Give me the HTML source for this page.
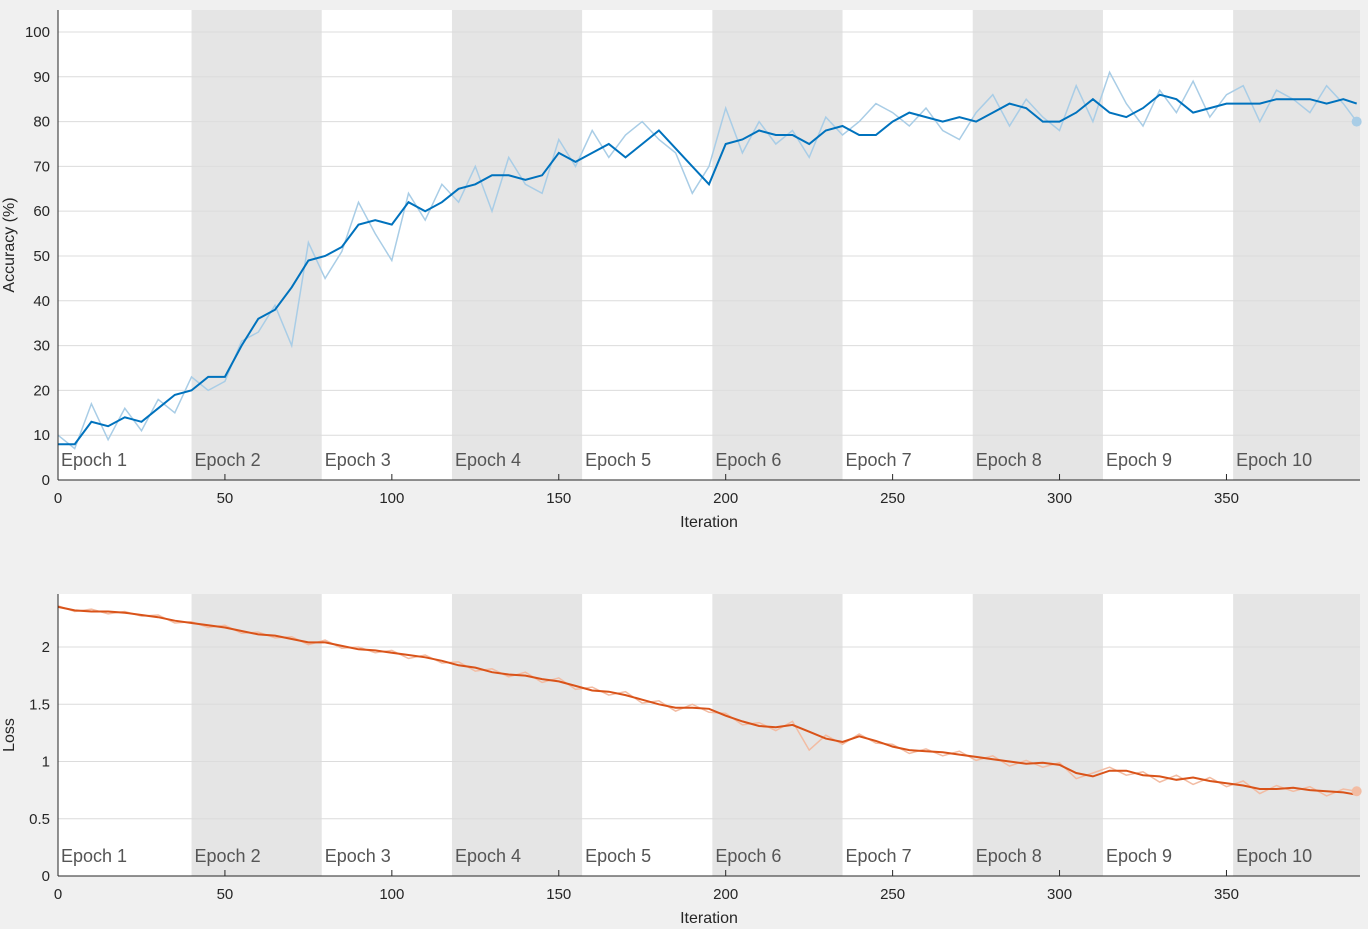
<!DOCTYPE html>
<html><head><meta charset="utf-8">
<style>
html,body{margin:0;padding:0;background:#f0f0f0;}
svg{display:block;font-family:"Liberation Sans",sans-serif;}
</style></head>
<body>
<svg id="chart" width="1368" height="929" viewBox="0 0 1368 929" xmlns="http://www.w3.org/2000/svg">
<rect x="0" y="0" width="1368" height="929" fill="#f0f0f0"/>
</svg>
<script>
const NS="http://www.w3.org/2000/svg";
const epochLabels=["Epoch 1","Epoch 2","Epoch 3","Epoch 4","Epoch 5","Epoch 6","Epoch 7","Epoch 8","Epoch 9","Epoch 10"];
const itersPerEpoch=39;
const xTicks=[0,50,100,150,200,250,300,350];
const accTicks=[0,10,20,30,40,50,60,70,80,90,100];
const lossTicks=[0,0.5,1,1.5,2];
const sampleStep=5;
const accSmooth=[8,8,13,12,14,13,16,19,20,23,23,30,36,38,43,49,50,52,57,58,57,62,60,62,65,66,68,68,67,68,73,71,73,75,72,75,78,74,70,66,75,76,78,77,77,75,78,79,77,77,80,82,81,80,81,80,82,84,83,80,80,82,85,82,81,83,86,85,82,83,84,84,84,85,85,85,84,85,84];
const accRaw=[10,7,17,9,16,11,18,15,23,20,22,31,33,39,30,53,45,51,62,55,49,64,58,66,62,70,60,72,66,64,76,70,78,72,77,80,76,73,64,70,83,73,80,75,78,72,81,77,80,84,82,79,83,78,76,82,86,79,85,81,78,88,80,91,84,79,87,82,89,81,86,88,80,87,85,82,88,84,80];
const lossSmooth=[2.35,2.32,2.31,2.31,2.30,2.28,2.26,2.23,2.21,2.19,2.17,2.14,2.11,2.10,2.07,2.04,2.04,2.01,1.98,1.97,1.95,1.93,1.91,1.88,1.84,1.82,1.78,1.76,1.75,1.72,1.70,1.66,1.62,1.61,1.58,1.54,1.50,1.47,1.47,1.46,1.40,1.35,1.31,1.30,1.32,1.26,1.20,1.17,1.22,1.18,1.13,1.10,1.09,1.08,1.06,1.04,1.02,1.00,0.98,0.99,0.97,0.90,0.87,0.92,0.92,0.88,0.87,0.84,0.86,0.83,0.81,0.79,0.76,0.76,0.77,0.75,0.74,0.73,0.71];
const lossRaw=[2.36,2.31,2.33,2.29,2.31,2.27,2.28,2.21,2.22,2.17,2.19,2.12,2.13,2.08,2.09,2.02,2.06,1.99,2.00,1.95,1.97,1.90,1.93,1.86,1.87,1.79,1.81,1.74,1.78,1.69,1.73,1.63,1.65,1.58,1.61,1.51,1.53,1.44,1.50,1.43,1.42,1.32,1.34,1.27,1.35,1.10,1.23,1.15,1.24,1.16,1.15,1.07,1.11,1.05,1.09,1.01,1.05,0.96,1.01,0.95,0.99,0.85,0.90,0.95,0.88,0.91,0.82,0.88,0.80,0.86,0.78,0.83,0.72,0.79,0.74,0.78,0.70,0.76,0.74];

const svg=document.getElementById('chart');
function el(tag,attrs,parent){const e=document.createElementNS(NS,tag);for(const k in attrs)e.setAttribute(k,attrs[k]);(parent||svg).appendChild(e);return e;}

function drawPanel(cfg){
  const L=58,R=1360,T=cfg.top,B=cfg.bottom;
  const xMax=390;
  const X=v=>L+(v/xMax)*(R-L);
  const Y=v=>B-(v/cfg.yMax)*(B-T);
  const g=el('g',{});
  
  
  const bg=el('rect',{x:L,y:T,width:R-L,height:B-T,fill:'#ffffff'},g);
  
  
  const eStart=i=>i===0?0:i*itersPerEpoch+1;
  epochLabels.forEach((lab,i)=>{
    const x0=X(eStart(i)),x1=X(Math.min(eStart(i+1),xMax));
    if(i%2===1){
      const r=el('rect',{x:x0,y:T,width:x1-x0,height:B-T,fill:'#e5e5e5'},g);
      
      
    }
  });
  cfg.ticks.forEach(t=>{
    const gl=el('line',{x1:L,x2:R,y1:Y(t),y2:Y(t),stroke:'#dcdcdc','stroke-width':1},g);
    
    
    const tl=el('text',{x:L-8,y:Y(t)+5,'text-anchor':'end','font-size':15,fill:'#262626'},g);
    tl.textContent=String(t);
    
    
  });
  epochLabels.forEach((lab,i)=>{
    const t=el('text',{x:X(eStart(i))+3,y:B-14,'font-size':18,fill:'#555555'},g);
    t.textContent=lab;
    
    
  });
  xTicks.forEach(t=>{
    el('line',{x1:X(t),x2:X(t),y1:B,y2:B-6,stroke:'#262626'},g);
    const tl=el('text',{x:X(t),y:B+23,'text-anchor':'middle','font-size':15,fill:'#262626'},g);
    tl.textContent=String(t);
    
    
  });
  const xs=i=>Math.min(i*sampleStep,389);
  const pts=arr=>arr.map((v,i)=>X(xs(i)).toFixed(1)+','+Y(v).toFixed(1)).join(' ');
  const raw=el('polyline',{points:pts(cfg.raw),fill:'none',stroke:cfg.light,'stroke-width':1.5},g);
  
  
  const sm=el('polyline',{points:pts(cfg.smooth),fill:'none',stroke:cfg.color,'stroke-width':2},g);
  
  
  const last=cfg.raw.length-1;
  const m=el('circle',{cx:X(xs(last)),cy:Y(cfg.raw[last]),r:5,fill:cfg.light},g);
  
  
  el('line',{x1:L,x2:L,y1:T,y2:B,stroke:'#262626'},g);
  el('line',{x1:L,x2:R,y1:B,y2:B,stroke:'#262626'},g);
  const xt=el('text',{x:(L+R)/2,y:B+47,'text-anchor':'middle','font-size':16,fill:'#262626'},g);
  xt.textContent='Iteration';
  
  
  const cy=(T+B)/2;
  const yt=el('text',{x:14,y:cy,'text-anchor':'middle','font-size':16,fill:'#262626',transform:'rotate(-90 14 '+cy+')'},g);
  yt.textContent=cfg.yTitle;
  
  
}
drawPanel({name:'accuracy-panel',top:10,bottom:480,yMax:104.9,ticks:accTicks,smooth:accSmooth,raw:accRaw,color:'#0072bd',light:'#a9cde6',yTitle:'Accuracy (%)'});
drawPanel({name:'loss-panel',top:594,bottom:876,yMax:2.463,ticks:lossTicks,smooth:lossSmooth,raw:lossRaw,color:'#d95319',light:'#f2bca3',yTitle:'Loss'});
</script>
</body></html>
